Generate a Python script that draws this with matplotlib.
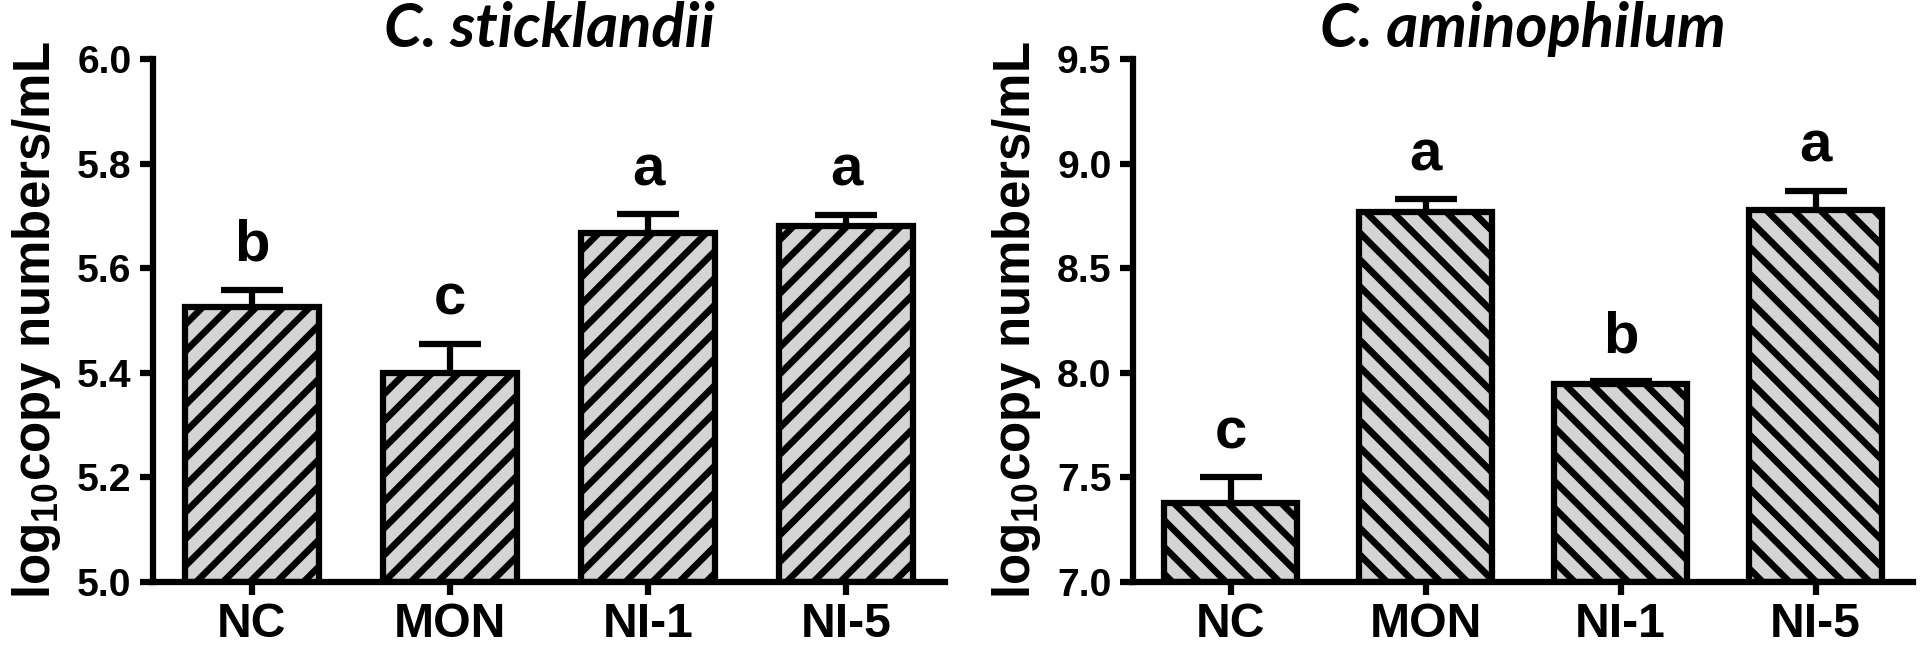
import numpy as np
import matplotlib
matplotlib.use('Agg')
import matplotlib.pyplot as plt

groups = ['NC', 'MON', 'NI-1', 'NI-5']

# C. sticklandii
stick_mean = [5.525, 5.40, 5.667, 5.68]
stick_err = [0.034, 0.055, 0.036, 0.022]
stick_letters = ['b', 'c', 'a', 'a']

# C. aminophilum
amino_mean = [7.38, 8.77, 7.945, 8.78]
amino_err = [0.12, 0.06, 0.015, 0.09]
amino_letters = ['c', 'a', 'b', 'a']

plt.rcParams['font.family'] = 'Liberation Sans'
plt.rcParams['font.weight'] = 'bold'
plt.rcParams['mathtext.fontset'] = 'custom'
plt.rcParams['mathtext.rm'] = 'Liberation Sans'
plt.rcParams['mathtext.default'] = 'rm'
plt.rcParams['hatch.linewidth'] = 3.0

W, H, DPI = 1932, 660, 161
LW = 2.8
fig = plt.figure(figsize=(W / DPI, H / DPI), dpi=DPI)


def panel(left_px, width_px, means, errs, letters, hatch, ylim, yticks, title):
    ax = fig.add_axes([left_px / W, 78 / H, width_px / W, 523 / H])
    x = np.arange(len(groups))
    means = np.array(means)
    ax.bar(x, means - ylim[0], bottom=ylim[0], width=0.68, color='#d4d4d4',
           edgecolor='black', linewidth=LW, hatch=hatch, zorder=2)
    eb = ax.errorbar(x, means, yerr=[np.zeros(len(x)), errs], fmt='none', ecolor='black',
                     elinewidth=LW, capsize=14, capthick=LW, zorder=3)
    eb[1][0].set_visible(False)  # pas de cap en bas
    for xi, m, e, l in zip(x, means, errs, letters):
        ax.annotate(l, (xi, m + e), xytext=(0, 13), textcoords='offset points',
                    ha='center', va='baseline', fontsize=26, fontweight='bold')
    ax.set_xlim(-0.5, len(x) - 0.5)
    ax.set_ylim(ylim)
    ax.set_yticks(yticks)
    ax.set_yticklabels(['%.1f' % t for t in yticks])
    ax.set_xticks(x)
    ax.set_xticklabels(groups)
    ax.spines['top'].set_visible(False)
    ax.spines['right'].set_visible(False)
    ax.spines['left'].set_linewidth(LW)
    ax.spines['bottom'].set_linewidth(LW)
    ax.tick_params(axis='both', width=LW, length=6, direction='out')
    ax.tick_params(axis='y', labelsize=17.5, pad=3.6)
    ax.tick_params(axis='x', labelsize=21.5, pad=3)
    ax.set_ylabel(r'log$_{10}$copy numbers/mL', fontsize=22.8, fontweight='bold')
    ax.yaxis.set_label_coords(-90 / width_px, 0.5)
    ax.text(0.5, 1 + 12 / 523, title, transform=ax.transAxes, ha='center', va='baseline',
            fontfamily='Lato', fontstyle='italic', fontweight='bold', fontsize=27.5)
    return ax


panel(153, 792, stick_mean, stick_err, stick_letters, '//', (5.0, 6.0),
      [5.0, 5.2, 5.4, 5.6, 5.8, 6.0], 'C. sticklandii')
panel(1133, 780, amino_mean, amino_err, amino_letters, '\\\\', (7.0, 9.5),
      [7.0, 7.5, 8.0, 8.5, 9.0, 9.5], 'C. aminophilum')

fig.savefig('out.png', dpi=DPI)
